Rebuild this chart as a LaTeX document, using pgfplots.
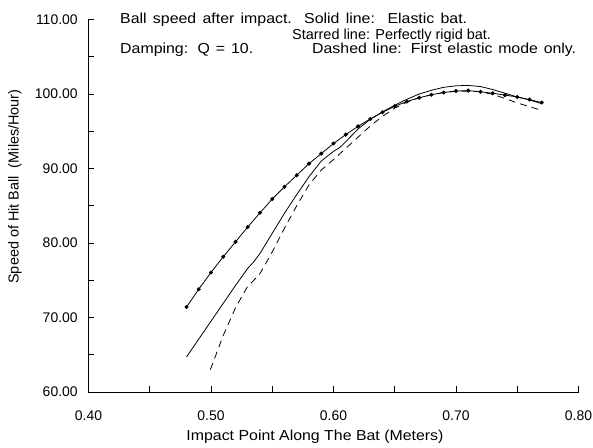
\documentclass[border=0pt]{standalone}
\usepackage{pgfplots}
\pgfplotsset{compat=1.18}
\usepackage{fontspec}
\setmainfont{Liberation Sans}
\newfontfamily\wide{Liberation Sans}[FakeStretch=1.1]
\begin{document}
\fontsize{14}{16}\selectfont
\begin{tikzpicture}
\begin{axis}[
  name=ax,
  scale only axis,
  width=490bp, height=372.5bp,
  xmin=0.4, xmax=0.8, ymin=60, ymax=110,
  axis x line*=bottom, axis y line*=left,
  axis line style={-, line width=0.8pt},
  tick align=inside,
  major tick length=6bp,
  tick style={line width=0.8pt, black},
  xtick={0.4,0.45,0.5,0.55,0.6,0.65,0.7,0.75,0.8},
  xticklabels={0.40,,0.50,,0.60,,0.70,,0.80},
  ytick={60,65,70,75,80,85,90,95,100,105,110},
  yticklabels={60.00,,70.00,,80.00,,90.00,,100.00,,110.00},
  /pgf/number format/assume math mode=true,
  xticklabel style={yshift=-14bp},
  yticklabel style={xshift=-6bp},
  ticklabel style={font=\fontsize{14}{16}\selectfont},
  clip=false,
]
\addplot[black, line width=0.8pt] coordinates {
(0.48,64.7) (0.49,67.1) (0.50,69.5) (0.51,71.9) (0.52,74.3) (0.53,76.6)
(0.535,77.5) (0.54,78.6) (0.55,81.3) (0.56,84.0) (0.57,86.5) (0.58,88.9)
(0.59,91.0) (0.60,92.3) (0.605,92.8) (0.61,93.6) (0.62,95.3) (0.63,96.6)
(0.64,97.6) (0.65,98.5) (0.66,99.3) (0.67,100.0) (0.68,100.5) (0.69,100.9)
(0.70,101.1) (0.71,101.15) (0.72,101.0) (0.73,100.6) (0.74,100.1) (0.75,99.6)
(0.76,99.2) (0.77,98.7)
};
\addplot[black, line width=0.8pt, mark=*, mark size=1.6pt] coordinates {
(0.48,71.4) (0.49,73.8) (0.50,76.05) (0.51,78.15) (0.52,80.15) (0.53,82.15)
(0.54,84.05) (0.55,85.9) (0.56,87.55) (0.57,89.1) (0.58,90.65) (0.59,92.0)
(0.60,93.35) (0.61,94.55) (0.62,95.65) (0.63,96.65) (0.64,97.55) (0.65,98.35)
(0.66,99.0) (0.67,99.5) (0.68,99.9) (0.69,100.2) (0.70,100.4) (0.71,100.45)
(0.72,100.3) (0.73,100.1) (0.74,99.85) (0.75,99.6) (0.76,99.25) (0.77,98.85)
};
\addplot[black, line width=0.8pt, dash pattern=on 7bp off 5bp] coordinates {
(0.4995,63.0) (0.51,67.6) (0.52,71.3) (0.53,74.2) (0.535,75.0) (0.54,75.9)
(0.55,78.8) (0.56,82.0) (0.57,85.0) (0.58,87.8) (0.59,89.8) (0.60,91.2)
(0.61,92.7) (0.62,94.2) (0.63,95.7) (0.64,97.0) (0.65,98.1) (0.66,98.9)
(0.67,99.5) (0.68,99.9) (0.69,100.2) (0.70,100.35) (0.71,100.4) (0.72,100.3)
(0.73,99.95) (0.74,99.4) (0.75,98.8) (0.76,98.3) (0.768,97.9)
};
\node[anchor=base west, inner sep=0pt, font=\wide\fontsize{14.5}{16}\selectfont] at (rel axis cs:0.0643,0.989)
  {\hbox to 347bp{\spaceskip=0.28em plus 1fil Ball speed after impact. Solid line:\hskip 0.56em plus 2fil Elastic bat.}};
\node[anchor=base west, inner sep=0pt, font=\fontsize{14.5}{16}\selectfont] at (rel axis cs:0.4153,0.945)
  {Starred line: Perfectly rigid bat.};
\node[anchor=base west, inner sep=0pt, font=\wide\fontsize{14.5}{16}\selectfont] at (rel axis cs:0.0643,0.9096)
  {\hbox to 133bp{\spaceskip=0.28em plus 1fil Damping: Q = 10.}};
\node[anchor=base west, inner sep=0pt, font=\wide\fontsize{14.5}{16}\selectfont] at (rel axis cs:0.4561,0.9096)
  {\hbox to 264bp{\spaceskip=0.28em plus 1fil Dashed line: First elastic mode only.}};
\node[anchor=center, inner sep=0pt, font=\wide\fontsize{14.5}{16}\selectfont] at (rel axis cs:0.4622,-0.1208) {Impact Point Along The Bat (Meters)};
\node[anchor=center, inner sep=0pt, rotate=90, font=\fontsize{14.5}{16}\selectfont] at (rel axis cs:-0.15,0.5517) {Speed of Hit Ball\ \ (Miles/Hour)};
\end{axis}
\pgfresetboundingbox
\useasboundingbox ([shift={(-88.5bp,-56bp)}]ax.south west) rectangle ([shift={(14.5bp,19.5bp)}]ax.north east);
\end{tikzpicture}
\end{document}
